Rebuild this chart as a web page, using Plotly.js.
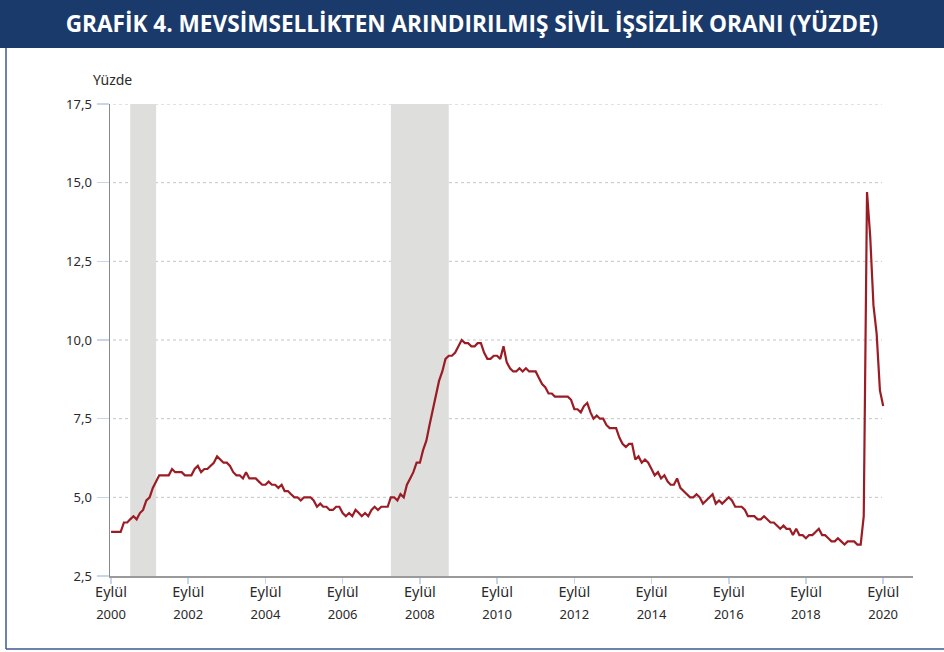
<!DOCTYPE html>
<html>
<head>
<meta charset="utf-8">
<script src="https://cdn.plot.ly/plotly-3.0.1.min.js"></script>
<style>
html,body{margin:0;padding:0;background:#fff;}
#chart{width:944px;height:652px;}
</style>
</head>
<body>
<div id="chart"></div>
<script>
// Monthly unemployment rate, Sep 2000 – Sep 2020 (percent)
const startYear = 2000, startMonth = 9;
const rates = [
  3.9, 3.9, 3.9, 3.9,
  4.2, 4.2, 4.3, 4.4, 4.3, 4.5, 4.6, 4.9, 5.0, 5.3, 5.5, 5.7,
  5.7, 5.7, 5.7, 5.9, 5.8, 5.8, 5.8, 5.7, 5.7, 5.7, 5.9, 6.0,
  5.8, 5.9, 5.9, 6.0, 6.1, 6.3, 6.2, 6.1, 6.1, 6.0, 5.8, 5.7,
  5.7, 5.6, 5.8, 5.6, 5.6, 5.6, 5.5, 5.4, 5.4, 5.5, 5.4, 5.4,
  5.3, 5.4, 5.2, 5.2, 5.1, 5.0, 5.0, 4.9, 5.0, 5.0, 5.0, 4.9,
  4.7, 4.8, 4.7, 4.7, 4.6, 4.6, 4.7, 4.7, 4.5, 4.4, 4.5, 4.4,
  4.6, 4.5, 4.4, 4.5, 4.4, 4.6, 4.7, 4.6, 4.7, 4.7, 4.7, 5.0,
  5.0, 4.9, 5.1, 5.0, 5.4, 5.6, 5.8, 6.1, 6.1, 6.5, 6.8, 7.3,
  7.8, 8.3, 8.7, 9.0, 9.4, 9.5, 9.5, 9.6, 9.8, 10.0, 9.9, 9.9,
  9.8, 9.8, 9.9, 9.9, 9.6, 9.4, 9.4, 9.5, 9.5, 9.4, 9.8, 9.3,
  9.1, 9.0, 9.0, 9.1, 9.0, 9.1, 9.0, 9.0, 9.0, 8.8, 8.6, 8.5,
  8.3, 8.3, 8.2, 8.2, 8.2, 8.2, 8.2, 8.1, 7.8, 7.8, 7.7, 7.9,
  8.0, 7.7, 7.5, 7.6, 7.5, 7.5, 7.3, 7.2, 7.2, 7.2, 6.9, 6.7,
  6.6, 6.7, 6.7, 6.2, 6.3, 6.1, 6.2, 6.1, 5.9, 5.7, 5.8, 5.6,
  5.7, 5.5, 5.4, 5.4, 5.6, 5.3, 5.2, 5.1, 5.0, 5.0, 5.1, 5.0,
  4.8, 4.9, 5.0, 5.1, 4.8, 4.9, 4.8, 4.9, 5.0, 4.9, 4.7, 4.7,
  4.7, 4.6, 4.4, 4.4, 4.4, 4.3, 4.3, 4.4, 4.3, 4.2, 4.2, 4.1,
  4.0, 4.1, 4.0, 4.0, 3.8, 4.0, 3.8, 3.8, 3.7, 3.8, 3.8, 3.9,
  4.0, 3.8, 3.8, 3.7, 3.6, 3.6, 3.7, 3.6, 3.5, 3.6, 3.6, 3.6,
  3.5, 3.5, 4.4, 14.7, 13.3, 11.1, 10.2, 8.4, 7.9
];

// Recession periods (shaded)
const recessionStart = ["2001-03-01", "2007-12-01"];
const recessionEnd   = ["2001-11-01", "2009-06-01"];

// X tick positions and labels
const tickDates = ["2000-09-01","2002-09-01","2004-09-01","2006-09-01","2008-09-01",
                   "2010-09-01","2012-09-01","2014-09-01","2016-09-01","2018-09-01","2020-09-01"];
const tickMonth = tickDates.map(() => "Eylül");
const tickYears = ["2000","2002","2004","2006","2008","2010","2012","2014","2016","2018","2020"];

const yTicks = [2.5, 5.0, 7.5, 10.0, 12.5, 15.0, 17.5];

const titleText = "GRAFİK 4. MEVSİMSELLİKTEN ARINDIRILMIŞ SİVİL İŞSİZLİK ORANI (YÜZDE)";
const yUnit = "Yüzde";

function pad(n){return (n<10?"0":"")+n;}
const dates = rates.map((_, i) => {
  const m0 = startMonth - 1 + i;
  const y = startYear + Math.floor(m0 / 12);
  const m = (m0 % 12) + 1;
  return y + "-" + pad(m) + "-01";
});

// Pixel geometry helpers for decorations outside plot area
const W = 944, H = 652, L = 110, R = 31, T = 104, B = 76;
const pw = W - L - R, ph = H - T - B;
const px = v => (v - L) / pw;
const py = v => (H - B - v) / ph;

const shapes = [];
// title bar
shapes.push({type:"rect", xref:"paper", yref:"paper", x0:px(0), x1:px(W), y0:py(48), y1:py(-2),
  fillcolor:"#1a3a6b", line:{width:0}, layer:"above"});
// frame lines
shapes.push({type:"line", xref:"paper", yref:"paper", x0:px(6), x1:px(6), y0:py(48), y1:py(649),
  line:{color:"#3a5a8c", width:1.5}});
shapes.push({type:"line", xref:"paper", yref:"paper", x0:px(6), x1:px(W), y0:py(649), y1:py(649),
  line:{color:"#3a5a8c", width:1.5}});
// recession shading
recessionStart.forEach((s, i) => {
  shapes.push({type:"rect", xref:"x", yref:"y", x0:s, x1:recessionEnd[i], y0:2.5, y1:17.5,
    fillcolor:"#dededc", line:{width:0}, layer:"below"});
});
// dotted gridlines
yTicks.slice(1).forEach(v => {
  shapes.push({type:"line", xref:"paper", yref:"y", x0:px(113), x1:px(882), y0:v, y1:v,
    line:{color:"#c4c4c4", width:1, dash:"dot"}, layer:"below"});
});

const traces = [
  {x:dates, y:rates, type:"scatter", mode:"lines",
   line:{color:"#9b1c24", width:2.2}, hoverinfo:"x+y", showlegend:false},
  {x:dates, y:rates, xaxis:"x2", type:"scatter", mode:"lines",
   line:{color:"rgba(0,0,0,0)", width:0}, hoverinfo:"skip", showlegend:false}
];

const xr = ["2000-08-22", "2021-06-10"];
const layout = {
  width: W, height: H,
  margin:{l:L, r:R, t:T, b:B, pad:0},
  paper_bgcolor:"#ffffff", plot_bgcolor:"#ffffff",
  separators:",.",
  font:{family:"'Noto Sans', 'Open Sans', sans-serif", color:"#333333", size:13},
  title:{text:"<b>"+titleText+"</b>", x:0.5, xref:"container", xanchor:"center",
         y:1-24/H, yref:"container", yanchor:"middle",
         font:{family:"'Open Sans', sans-serif", size:22.6, color:"#ffffff"}},
  xaxis:{type:"date", range:xr, tickmode:"array", tickvals:tickDates, ticktext:tickMonth,
         showgrid:false, zeroline:false, showline:true, linecolor:"#9a9a9a", linewidth:2,
         ticks:"outside", ticklen:6, tickcolor:"#c8d6ea", tickwidth:1.5,
         tickfont:{size:14.5, color:"#2a2a2a"}, ticklabelstandoff:-4, fixedrange:true},
  xaxis2:{type:"date", range:xr, overlaying:"x", anchor:"y", side:"bottom",
          tickmode:"array", tickvals:tickDates, ticktext:tickYears,
          showgrid:false, zeroline:false, showline:false, ticks:"",
          tickfont:{size:13, color:"#2a2a2a"}, ticklabelstandoff:29, fixedrange:true},
  yaxis:{range:[2.5,17.5], tickmode:"array", tickvals:yTicks, tickformat:".1f",
         showgrid:false, zeroline:false, showline:true, linecolor:"#8a8a8a", linewidth:1.5,
         ticks:"outside", ticklen:12, tickcolor:"#c8d6ea", tickwidth:1.5,
         tickfont:{size:13, color:"#2a2a2a"}, ticklabelstandoff:2, fixedrange:true},
  shapes: shapes,
  annotations:[
    {text:yUnit, xref:"paper", yref:"paper", x:px(91), y:py(80), xanchor:"left", yanchor:"middle",
     showarrow:false, font:{size:14, color:"#2a2a2a"}}
  ]
};

Plotly.newPlot("chart", traces, layout, {displayModeBar:false, staticPlot:true});
</script>
</body>
</html>
